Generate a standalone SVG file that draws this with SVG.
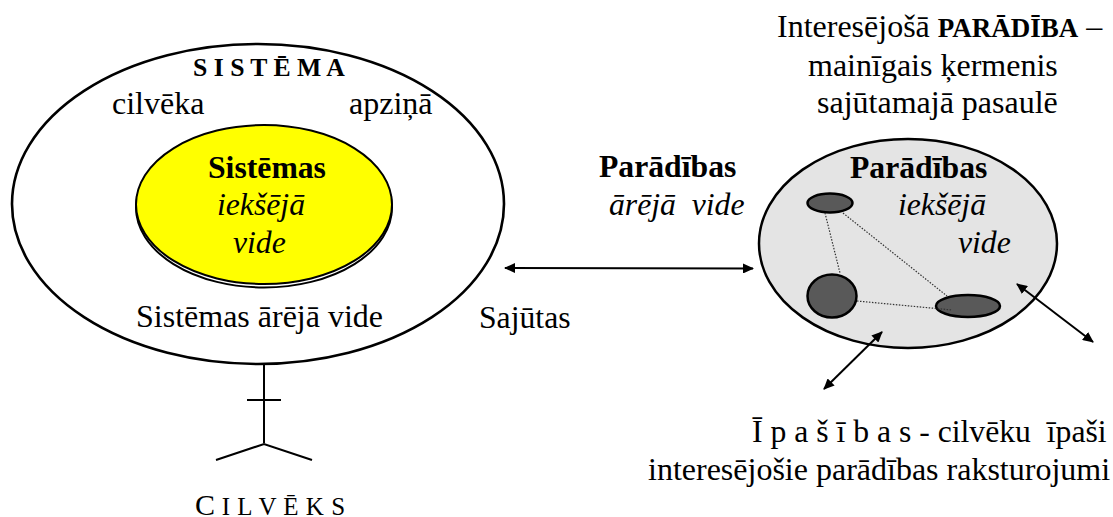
<svg xmlns="http://www.w3.org/2000/svg" width="1113" height="517" viewBox="0 0 1113 517">
<style>
text{font-family:"Liberation Serif","Times New Roman",serif;font-size:32px;fill:#000;white-space:pre}
.b{font-weight:bold}.i{font-style:italic}
.o{stroke:#000;stroke-width:2.600;fill:none}
.e{fill:#595959;stroke:#000;stroke-width:2.500}
.d{stroke:#333;stroke-width:1.200;stroke-dasharray:1.500 1.500;fill:none}
.a{stroke:#000;stroke-width:2;fill:none;marker-start:url(#s);marker-end:url(#h)}
.l{stroke:#000;stroke-width:2;fill:none}
</style>
<defs>
<marker id="h" markerWidth="11" markerHeight="10" refX="10" refY="5" orient="auto" markerUnits="userSpaceOnUse"><path d="M0,0L11,5L0,10z"/></marker>
<marker id="s" markerWidth="11" markerHeight="10" refX="1" refY="5" orient="auto" markerUnits="userSpaceOnUse"><path d="M11,0L0,5L11,10z"/></marker>
</defs>
<rect width="1113" height="517" fill="#fff"/>
<g id="sistema">
<ellipse class="o" cx="258" cy="204" rx="246" ry="160"/>
<text x="193" y="76" class="b" style="font-size:25.700px" xml:space="preserve">S I S T Ē M A</text>
<text x="112" y="114">cilvēka</text>
<text x="349" y="114">apziņā</text>
<text x="136" y="327">Sistēmas ārējā vide</text>
</g>
<g id="ieksejaVide">
<ellipse cx="264" cy="207.500" rx="128" ry="80" fill="#fff" stroke="#000" stroke-width="2"/>
<ellipse cx="264" cy="204.500" rx="128" ry="79.500" fill="#ff0" stroke="#000" stroke-width="2"/>
<text x="208" y="178" class="b" style="font-size:31.700px">Sistēmas</text>
<text x="217" y="215" class="i" style="font-size:31.700px">iekšējā</text>
<text x="233" y="253" class="i" style="font-size:31.700px">vide</text>
</g>
<g id="cilveks">
<path class="l" d="M264,365V443M247,400H281M216,460L264,444L312,460"/>
<text x="195" y="515" style="font-size:30px" xml:space="preserve">C<tspan style="font-size:25px;letter-spacing:.5px"> I L V Ē K S</tspan></text>
</g>
<g id="paradiba-virsraksts">
<text x="777" y="37">Interesējošā <tspan class="b" style="font-size:27px">PARĀDĪBA</tspan> –</text>
<text x="808" y="76">mainīgais ķermenis</text>
<text x="817" y="113">sajūtamajā pasaulē</text>
</g>
<g id="areja">
<text x="599" y="177" class="b" style="font-size:31.700px">Parādības</text>
<text x="609" y="215" class="i" style="font-size:31.700px" xml:space="preserve">ārējā  vide</text>
</g>
<g id="sajutas"><text x="479" y="328" style="font-size:31.700px">Sajūtas</text></g>
<g id="paradiba">
<ellipse cx="908" cy="243.500" rx="149" ry="104.500" fill="#e4e4e4" stroke="#000" stroke-width="2.500"/>
<text x="850" y="178" class="b" style="font-size:31.700px">Parādības</text>
<text x="898" y="215" class="i" style="font-size:31.700px">iekšējā</text>
<text x="958" y="253" class="i" style="font-size:31.700px">vide</text>
</g>
<g id="mezgli">
<ellipse id="m1" class="e" cx="830" cy="203" rx="22.500" ry="9.500"/>
<ellipse id="m2" class="e" cx="832" cy="296" rx="24.500" ry="21.500"/>
<ellipse id="m3" class="e" cx="968" cy="306" rx="32" ry="11"/>
</g>
<g id="connectors">
<path class="d" d="M825,213L840,273M843,213L947,296M857,301L952,310"/>
<path class="a" d="M505,268L753,268.500"/>
<path class="a" d="M1017,284L1093,342"/>
<path class="a" d="M882,332L824,389"/>
</g>
<g id="ipasibas">
<text x="752" y="442" style="font-size:31.700px" xml:space="preserve">Ī p a š ī b a s - cilvēku  īpaši</text>
<text x="648" y="480">interesējošie parādības raksturojumi</text>
</g>
</svg>
